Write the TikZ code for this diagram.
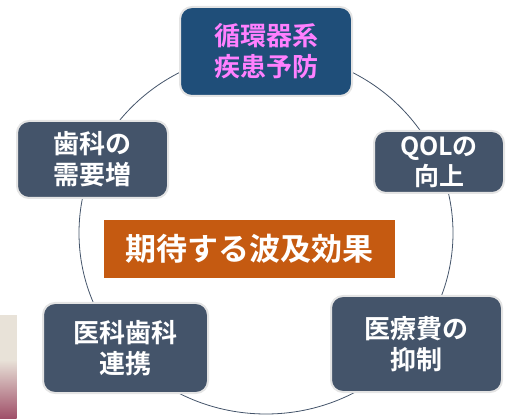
\documentclass[tikz,border=0pt]{standalone}
\usepackage{fontspec}
\newfontfamily\jpfont{Noto Sans CJK JP}[BoldFont={Noto Sans CJK JP Bold}]
\usetikzlibrary{shapes}
\usetikzlibrary{backgrounds,positioning}
\usepackage{xcolor}
\definecolor{slate}{RGB}{68,84,106}
\definecolor{deepblue}{RGB}{31,78,121}
\definecolor{rust}{RGB}{197,90,17}
\definecolor{rim}{RGB}{228,228,228}
\definecolor{orchid}{RGB}{255,128,255}
\definecolor{photobeige}{RGB}{232,226,216}
\definecolor{photorose}{RGB}{160,80,105}
\newcommand{\jpsize}[2]{\jpfont\bfseries\fontsize{#1}{#2}\selectfont}

\begin{document}
\begin{tikzpicture}[x=1pt,y=1pt]
    \tikzstyle{every node}=[inner sep=0pt,align=center,font=\jpsize{26}{31}];
    \tikzstyle{effect}=[draw=rim,line width=2pt,rounded corners=12pt,fill=slate,text=white];

    \useasboundingbox (0,0) rectangle (506,418);

    % photo cut off at the left edge
    \fill[photobeige] (0,0) rectangle (16.5,103);
    \shade[top color=photobeige,middle color=photorose!70,bottom color=photorose] (0,0) rectangle (16.5,58);

    \coordinate (hub) at (266,185);
    \draw[slate,line width=0.8pt] (hub) ellipse (187 and 181);

    \node[effect,fill=deepblue,text=orchid,minimum width=172pt,minimum height=89pt] (cvd) at (266,366.5) {循環器系\\疾患予防};
    \node[effect,minimum width=151pt,minimum height=77pt] (demand) at (92.5,258.5) {歯科の\\需要増};
    \node[effect,minimum width=130pt,minimum height=62pt,font=\jpsize{25}{30}] (qol) at (439,256) {QOLの\\向上};
    \node[effect,minimum width=171pt,minimum height=96pt] (cost) at (416.5,74) {医療費の\\抑制};
    \node[effect,minimum width=165pt,minimum height=90pt] (link) at (125.5,70) {医科歯科\\連携};

    \node[fill=rust,text=white,minimum width=291pt,minimum height=58pt,font=\jpsize{31}{36}] (goal) at (249.5,169) {期待する波及効果};
\end{tikzpicture}
\end{document}
